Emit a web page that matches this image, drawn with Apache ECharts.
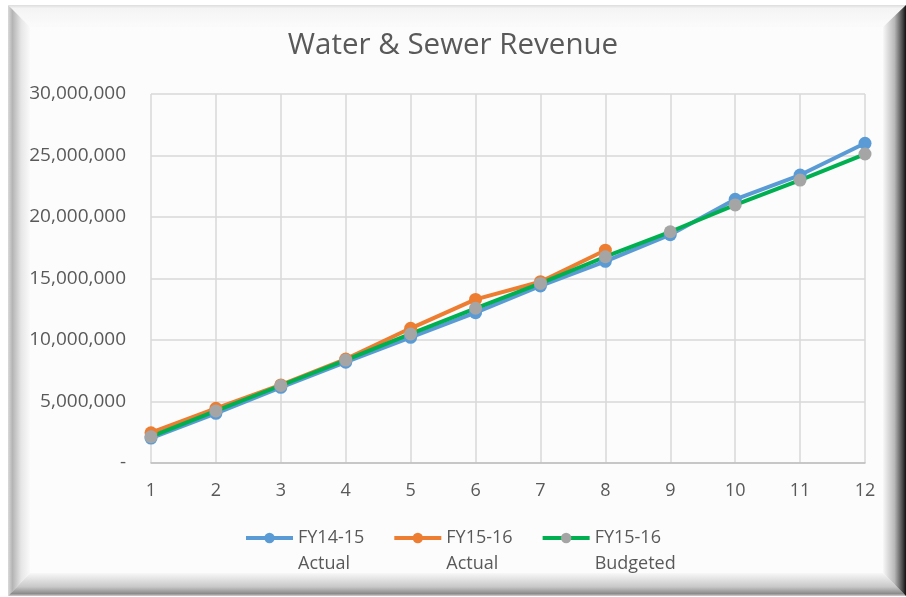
<!DOCTYPE html>
<html>
<head>
<meta charset="utf-8">
<script src="https://cdn.jsdelivr.net/npm/echarts@6/dist/echarts.min.js"></script>
<style>
  html, body { margin: 0; padding: 0; background: #ffffff; }
  #main { width: 906px; height: 597px; }
</style>
</head>
<body>
<div id="main"></div>
<script>
var months = ['1', '2', '3', '4', '5', '6', '7', '8', '9', '10', '11', '12'];
var fy1415Actual = [2030000, 4040000, 6150000, 8200000, 10220000, 12220000, 14400000, 16400000, 18560000, 21440000, 23410000, 25990000];
var fy1516Actual = [2460000, 4450000, 6350000, 8450000, 10950000, 13300000, 14740000, 17300000];
var fy1516Budget = [2140000, 4230000, 6300000, 8370000, 10490000, 12580000, 14600000, 16770000, 18800000, 20980000, 23000000, 25120000];
var seriesNames = ['FY14-15\nActual', 'FY15-16\nActual', 'FY15-16\nBudgeted'];

var myChart = echarts.init(document.getElementById('main'));

// bevelled frame around the chart area
function bevel(points, colors, x2, y2) {
    return {
        type: 'polygon',
        silent: true,
        z: -10,
        shape: { points: points },
        style: {
            fill: new echarts.graphic.LinearGradient(0, 0, x2, y2, colors)
        }
    };
}

var frame = [
    { type: 'rect', silent: true, z: -11, shape: { x: 8, y: 5, width: 898, height: 591 }, style: { fill: '#fcfcfc' } },
    bevel([[8, 5], [906, 5], [883, 27], [30, 27]], [
        { offset: 0, color: '#dcdcdc' }, { offset: 0.15, color: '#f4f4f4' }, { offset: 1, color: '#fbfbfb' }
    ], 0, 1),
    bevel([[8, 5], [30, 27], [30, 573], [8, 596]], [
        { offset: 0, color: '#dadada' }, { offset: 0.2, color: '#b4b4b4' }, { offset: 0.6, color: '#e6e6e6' }, { offset: 1, color: '#fafafa' }
    ], 1, 0),
    bevel([[8, 596], [30, 573], [883, 573], [906, 596]], [
        { offset: 0, color: '#f8f8f8' }, { offset: 0.6, color: '#c8c8c8' }, { offset: 0.9, color: '#8a8a8a' }, { offset: 1, color: '#d0d0d0' }
    ], 0, 1),
    bevel([[906, 5], [906, 596], [883, 573], [883, 27]], [
        { offset: 0, color: '#f8f8f8' }, { offset: 0.5, color: '#b8b8b8' }, { offset: 0.85, color: '#484848' }, { offset: 1, color: '#101010' }
    ], 1, 0)
];

var option = {
    animation: false,
    backgroundColor: '#ffffff',
    graphic: frame,
    title: {
        text: 'Water & Sewer Revenue',
        left: 'center',
        top: 26,
        textStyle: {
            fontFamily: 'Open Sans',
            fontSize: 29.5,
            fontWeight: 'normal',
            color: '#595959'
        }
    },
    grid: { left: 151, right: 41, top: 94, bottom: 134 },
    legend: {
        left: 244,
        top: 499,
        padding: 0,
        itemWidth: 47,
        itemHeight: 13,
        itemGap: 28,
        data: seriesNames,
        lineStyle: { width: 4 },
        // leading blank line keeps the icon level with the first text line
        formatter: function (name) {
            return '\n' + name;
        },
        textStyle: {
            fontFamily: 'Open Sans',
            fontSize: 18,
            lineHeight: 26,
            color: '#595959'
        }
    },
    xAxis: {
        type: 'category',
        boundaryGap: false,
        data: months,
        axisLine: { lineStyle: { color: '#bfbfbf', width: 1.5 } },
        axisTick: { show: false },
        splitLine: { show: true, lineStyle: { color: '#d9d9d9', width: 1.5 } },
        axisLabel: { margin: 19, fontFamily: 'Open Sans', fontSize: 18, color: '#595959' }
    },
    yAxis: {
        type: 'value',
        min: 0,
        max: 30000000,
        interval: 5000000,
        axisLine: { show: false },
        axisTick: { show: false },
        splitLine: { lineStyle: { color: '#d9d9d9', width: 1.5 } },
        axisLabel: {
            margin: 25,
            fontFamily: 'Open Sans',
            fontSize: 19,
            color: '#595959',
            formatter: function (v) {
                return v === 0 ? '-' : v.toLocaleString('en-US');
            }
        }
    },
    series: [
        {
            name: seriesNames[0],
            type: 'line',
            data: fy1415Actual,
            symbol: 'circle',
            symbolSize: 13,
            lineStyle: { color: '#5b9bd5', width: 4 },
            itemStyle: { color: '#5b9bd5' }
        },
        {
            name: seriesNames[1],
            type: 'line',
            data: fy1516Actual,
            symbol: 'circle',
            symbolSize: 13,
            lineStyle: { color: '#ed7d31', width: 4 },
            itemStyle: { color: '#ed7d31' }
        },
        {
            name: seriesNames[2],
            type: 'line',
            data: fy1516Budget,
            symbol: 'circle',
            symbolSize: 13,
            lineStyle: { color: '#00b050', width: 4 },
            itemStyle: { color: '#a5a5a5' }
        }
    ]
};
myChart.setOption(option);
window.addEventListener('resize', function () {
    myChart.resize();
});
</script>
</body>
</html>
